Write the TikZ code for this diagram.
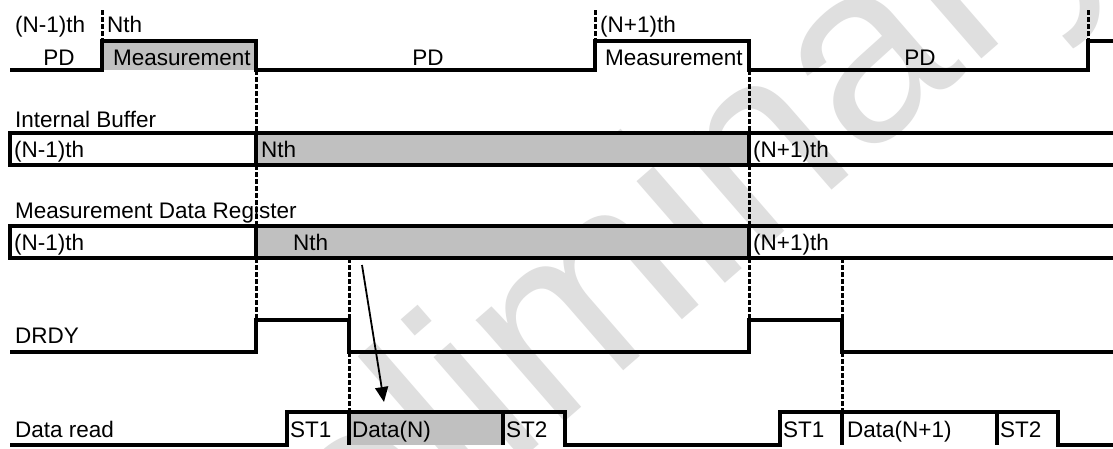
\documentclass[tikz,border=0pt]{standalone}
\usepackage{fontspec}
\setmainfont{Liberation Sans}
\usetikzlibrary{arrows.meta}
\definecolor{boxgray}{RGB}{192,192,192}
\definecolor{wmgray}{RGB}{223,223,223}
\begin{document}
\begin{tikzpicture}[x=1pt,y=-1pt,
  wave/.style={line width=3.3pt, line join=miter},
  sep/.style={line width=3.3pt},
  dashline/.style={line width=3pt, dash pattern=on 5pt off 2pt},
  lbl/.style={anchor=base west, inner sep=0pt, font=\fontsize{22.5}{24}\selectfont},
  clbl/.style={anchor=base, inner sep=0pt, font=\fontsize{22.5}{24}\selectfont},
  shade/.style={fill=boxgray},
  readarrow/.style={line width=1.8pt, -{Triangle[length=15pt,width=13pt]}},
  watermark/.style={text=wmgray, inner sep=0pt, rotate=41, font=\fontsize{255}{255}\selectfont}]
\useasboundingbox (0,0) rectangle (1113,448);
\fill[white] (0,0) rectangle (1113,448);
% watermark
\node[watermark] (wm) at (605,300) {Preliminary};
% ---- shaded regions
\fill[shade] (102,41) rectangle (256,70);
\fill[shade] (256,133) rectangle (749,165);
\fill[shade] (256,226) rectangle (749,258);
\fill[shade] (349,412) rectangle (503,445);
% ---- row 1: PD / Measurement
\draw[wave] (10,70) -- (102,70) -- (102,41) -- (256,41) -- (256,70) -- (595,70) -- (595,41) -- (749,41) -- (749,70) -- (1088,70) -- (1088,41) -- (1113,41);
\node[lbl] (r1a) at (15,32) {(N-1)th};
\node[lbl] (r1b) at (107,32) {Nth};
\node[lbl] (r1c) at (600,32) {(N+1)th};
\node[clbl] (pd1) at (59,65) {PD};
\node[lbl] (ms1) at (113,65) {Measurement};
\node[clbl] (pd2) at (428,65) {PD};
\node[lbl] (ms2) at (605,65) {Measurement};
\node[clbl] (pd3) at (920,65) {PD};
% ---- Internal buffer
\node[lbl] (ibl) at (15,127) {Internal Buffer};
\draw[wave] (1113,133) -- (10,133) -- (10,165) -- (1113,165);
\draw[sep] (256,133) -- (256,165);
\draw[sep] (749,133) -- (749,165);
\node[lbl] (ib1) at (14,157) {(N-1)th};
\node[lbl] (ib2) at (261,157) {Nth};
\node[lbl] (ib3) at (753,157) {(N+1)th};
% ---- Measurement data register
\node[lbl] (mdl) at (15,218) {Measurement Data Register};
\draw[wave] (1113,226) -- (10,226) -- (10,258) -- (1113,258);
\draw[sep] (256,226) -- (256,258);
\draw[sep] (749,226) -- (749,258);
\node[lbl] (md1) at (14,250) {(N-1)th};
\node[lbl] (md2) at (293,250) {Nth};
\node[lbl] (md3) at (753,250) {(N+1)th};
% ---- DRDY
\node[lbl] (drl) at (15,343) {DRDY};
\draw[wave] (10,352) -- (256,352) -- (256,320) -- (349,320) -- (349,352) -- (749,352) -- (749,320) -- (842,320) -- (842,352) -- (1113,352);
% ---- Data read
\node[lbl] (dtl) at (15,437) {Data read};
\draw[wave] (10,445) -- (287,445) -- (287,412) -- (565,412) -- (565,445) -- (780,445) -- (780,412) -- (1058,412) -- (1058,445) -- (1113,445);
\draw[sep] (349,412) -- (349,445);
\draw[sep] (503,412) -- (503,445);
\draw[sep] (842,412) -- (842,445);
\draw[sep] (997,412) -- (997,445);
\node[lbl] (st1a) at (290,437) {ST1};
\node[lbl] (dn) at (352,437) {Data(N)};
\node[lbl] (st2a) at (506,437) {ST2};
\node[lbl] (st1b) at (783,437) {ST1};
\node[lbl] (dn1) at (847,437) {Data(N+1)};
\node[lbl] (st2b) at (1000,437) {ST2};
% ---- dashed guides
\draw[dashline] (102,10) -- (102,41);
\draw[dashline] (595,10) -- (595,41);
\draw[dashline] (1088,10) -- (1088,41);
\foreach \x in {256,749} {
  \draw[dashline] (\x,70) -- (\x,133);
  \draw[dashline] (\x,165) -- (\x,226);
  \draw[dashline] (\x,258) -- (\x,320);
}
\foreach \x in {349,842} {
  \draw[dashline] (\x,258) -- (\x,320);
  \draw[dashline] (\x,352) -- (\x,412);
}
% ---- read arrow
\coordinate (arrS) at (362,265);
\coordinate (arrE) at (384,402);
\draw[readarrow] (arrS) -- (arrE);
\end{tikzpicture}
\end{document}
